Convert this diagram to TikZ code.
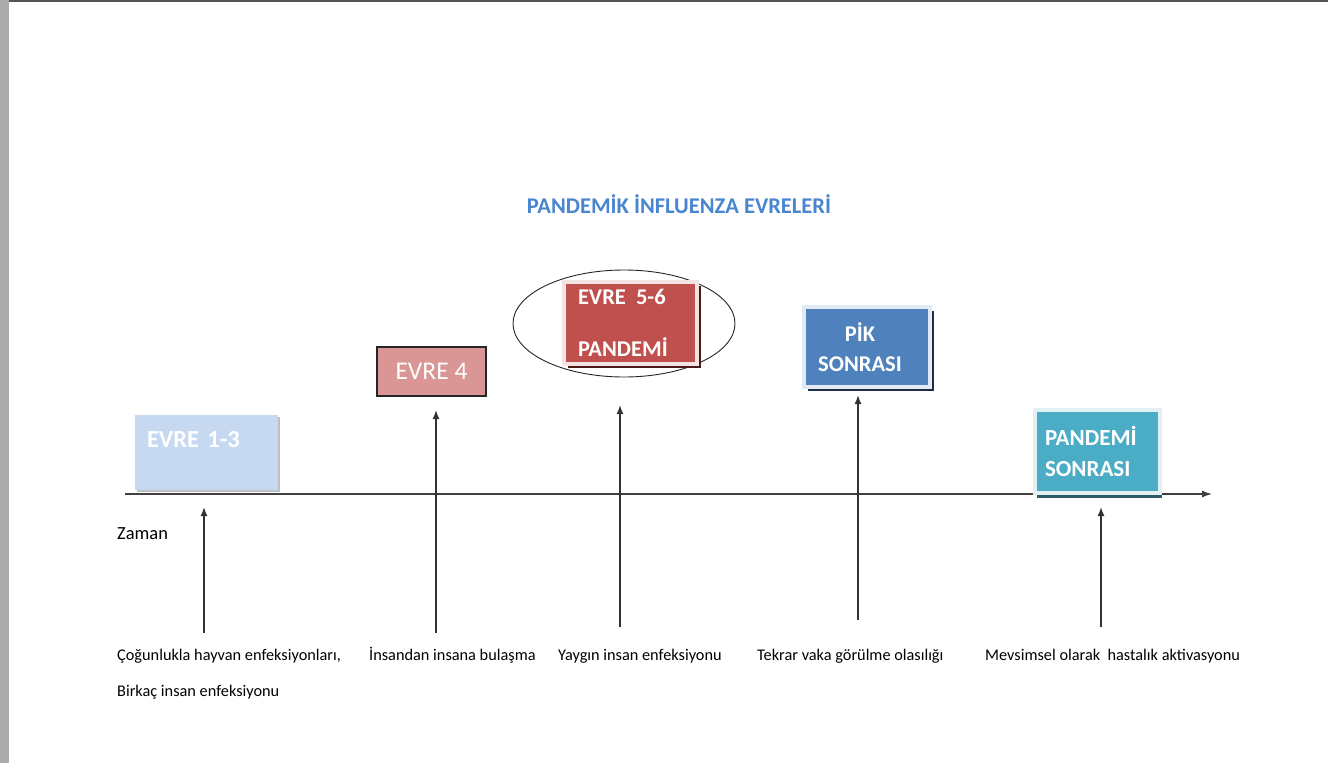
\documentclass[tikz,border=0pt]{standalone}
\usepackage{fontspec}
\setmainfont{Carlito}
\usetikzlibrary{arrows.meta,positioning,shapes.geometric,shadows}
\definecolor{strip}{HTML}{ABABAB}
\definecolor{topline}{HTML}{555555}
\definecolor{titleblue}{HTML}{4A86CF}
\definecolor{paleblue}{HTML}{C6D9F1}
\definecolor{rose}{HTML}{D99694}
\definecolor{brick}{HTML}{C0504D}
\definecolor{brickedge}{HTML}{F2E4E3}
\definecolor{brickdark}{HTML}{4A1A19}
\definecolor{steel}{HTML}{4F81BD}
\definecolor{steeledge}{HTML}{E4EAF3}
\definecolor{steeldark}{HTML}{1F2D4A}
\definecolor{aqua}{HTML}{4BACC6}
\definecolor{aquaedge}{HTML}{E2F0F4}
\definecolor{aquadark}{HTML}{2A5B68}
\tikzset{
  phase/.style={text=white,inner sep=0pt,font=\bfseries\fontsize{22.5}{26}\selectfont},
  phaseL/.style={phase,align=left},
  ring/.style={draw=black!85,line width=0.9pt,ellipse,inner sep=0pt},
  axisline/.style={-{Latex[length=10pt,width=7pt]},line width=1.3pt,color=black!75},
  up/.style={-{Latex[length=9pt,width=7pt]},line width=1.4pt,color=black!80},
  lbl/.style={anchor=base west,inner sep=0pt,font=\fontsize{16.3}{19}\selectfont},
  head/.style={font=\bfseries\fontsize{22.5}{26}\selectfont\color{titleblue}},
}
\begin{document}
\begin{tikzpicture}[x=1pt,y=-1pt]
\useasboundingbox (0,0) rectangle (1328,763);
\fill[white] (0,0) rectangle (1328,763);
% page edge of the screenshot
\fill[strip] (0,0) rectangle (8.5,763);
\fill[topline] (8.5,0) rectangle (1328,2);

\node[head] (title) at (679,204) {PANDEMİK İNFLUENZA EVRELERİ};

% time axis
\coordinate (t0) at (125,494);
\coordinate (tend) at (1212,494);
\draw[axisline] (t0) -- (tend);
\node[lbl,font=\fontsize{18.5}{22}\selectfont] (zaman) at (117,539) {Zaman};

% phases
\node[phase,fill=paleblue,minimum width=143,minimum height=75,text width=119,align=left,
  font=\bfseries\fontsize{24.5}{28}\selectfont,text height=15pt,text depth=26pt,
  drop shadow={fill=black!25,opacity=1,shadow xshift=2pt,shadow yshift=-2pt}]
  (p13) at (206.5,452.5) {EVRE 1-3};
\node[fill=rose,draw=black!85,line width=1.2pt,text=white,inner sep=0pt,
  minimum width=109,minimum height=49,font=\fontsize{25.5}{30}\selectfont]
  (p4) at (431.5,371.5) {EVRE 4};
\node[ring,minimum width=222,minimum height=107] (r56) at (624,323.5) {};
\node[phaseL,fill=brick,draw=brickedge,line width=4pt,minimum width=133,minimum height=82,
  text width=105,
  drop shadow={fill=brickdark,opacity=1,shadow xshift=4pt,shadow yshift=-4pt}]
  (p56) at (630.5,323) {EVRE\hspace{0.45em}5-6\\[26pt]PANDEMİ};
\node[phase,align=center,fill=steel,draw=steeledge,line width=4pt,minimum width=126,minimum height=80,
  drop shadow={fill=steeldark,opacity=1,shadow xshift=4pt,shadow yshift=-4pt}]
  (pik) at (867,347) {PİK\hspace*{14pt}\\[4pt]SONRASI\hspace*{14pt}};
\node[phaseL,fill=aqua,draw=aquaedge,line width=4pt,minimum width=125,minimum height=83,
  text width=105,font=\bfseries\fontsize{23}{26}\selectfont,
  drop shadow={fill=aquadark,opacity=1,shadow xshift=1.5pt,shadow yshift=-5pt}]
  (post) at (1097.5,451.5) {PANDEMİ\\[5pt]SONRASI};

% pointers
\foreach \n/\ax/\ab/\at in {1/204/633/507, 2/436/633/410, 3/620/627/405, 4/858/620/395, 5/1101/627/507}{
  \coordinate (b\n) at (\ax,\ab);
  \coordinate (t\n) at (\ax,\at);
  \draw[up] (b\n) -- (t\n);
}

% descriptions
\node[lbl] (d1) at (117,660) {Çoğunlukla hayvan enfeksiyonları,};
\node[lbl] (d1b) at (117,696) {Birkaç insan enfeksiyonu};
\node[lbl] (d2) at (369,660) {İnsandan insana bulaşma};
\node[lbl] (d3) at (558,660) {Yaygın insan enfeksiyonu};
\node[lbl] (d4) at (757,660) {Tekrar vaka görülme olasılığı};
\node[lbl] (d5) at (985,660) {Mevsimsel olarak~ hastalık aktivasyonu};
\end{tikzpicture}
\end{document}
